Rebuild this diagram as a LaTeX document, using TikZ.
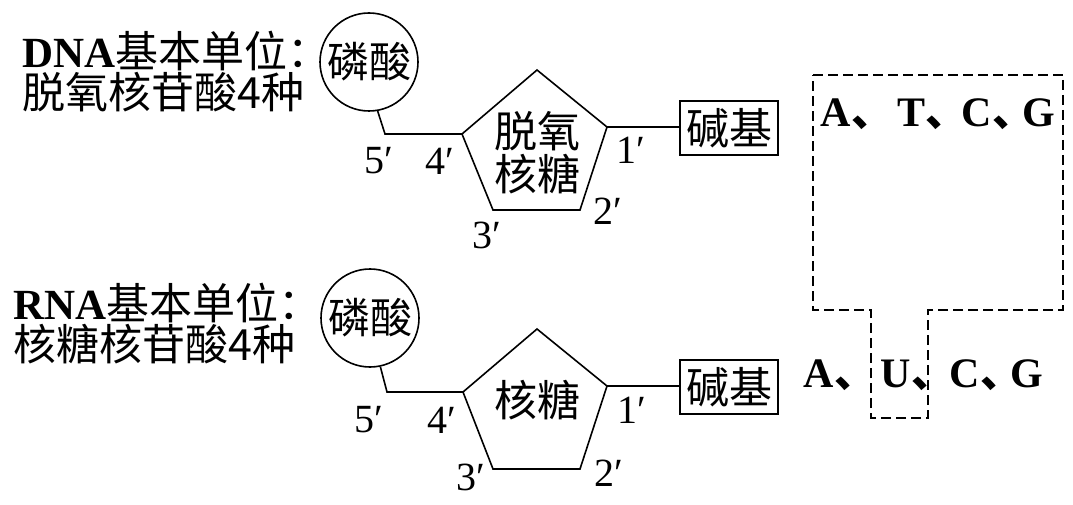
\documentclass[tikz,border=0pt]{standalone}
\usepackage{fontspec}
\setmainfont{Liberation Serif}
\newfontfamily\cjk{Noto Sans CJK SC}
\newcommand{\dun}{{\cjk 、}}
\begin{document}
\begin{tikzpicture}[x=1pt,y=-1pt,line width=1.6pt,
  title/.style={anchor=west, inner sep=0, align=left, font=\fontsize{43}{41}\selectfont},
  sugar/.style={inner sep=0, align=center, font=\cjk\fontsize{43}{43}\selectfont},
  phos/.style={draw, circle, minimum size=98pt, inner sep=0, font=\cjk\fontsize{42}{44}\selectfont},
  basebox/.style={draw, rectangle, minimum width=98pt, minimum height=54pt, inner sep=0, font=\cjk\fontsize{43}{48}\selectfont},
  num/.style={inner sep=0, font=\fontsize{40}{44}\selectfont},
  nt/.style={anchor=base west, inner sep=0, font=\bfseries\fontsize{42}{44}\selectfont},
  dashline/.style={dash pattern=on 10pt off 5pt, line width=1.5pt}]
\useasboundingbox (0,0) rectangle (1073,505);

% ---------- DNA ----------
\node[title] (dnat) at (22,72) {\textbf{DNA}{\cjk 基本单位：}\\{\cjk 脱氧核苷酸4种}};
\node[phos] (p1) at (369,62) {磷酸};
\coordinate (t1) at (537,70);
\coordinate (r1) at (607,127);
\coordinate (br1) at (580,210);
\coordinate (bl1) at (493,210);
\coordinate (l1) at (462,134);
\coordinate (k1) at (385,134);
\draw[line join=miter] (t1) -- (r1) -- (br1) -- (bl1) -- (l1) -- cycle;
\node[sugar] (s1) at (537,153) {脱氧\\核糖};
\node[basebox] (b1) at (729,128) {碱基};
\draw (p1.-80) -- (k1) -- (l1);
\draw (r1) -- (r1 -| b1.west);
\node[num] (n5a) at (379,161) {5′};
\node[num] (n4a) at (440,161) {4′};
\node[num] (n1a) at (631,150) {1′};
\node[num] (n2a) at (608,211) {2′};
\node[num] (n3a) at (487,235) {3′};

% ---------- RNA ----------
\node[title] (rnat) at (13,324) {\textbf{RNA}{\cjk 基本单位：}\\{\cjk 核糖核苷酸4种}};
\node[phos] (p2) at (370,318) {磷酸};
\coordinate (t2) at (537,329);
\coordinate (r2) at (607,386);
\coordinate (br2) at (580,469);
\coordinate (bl2) at (493,469);
\coordinate (l2) at (463,392);
\coordinate (k2) at (387,392);
\draw[line join=miter] (t2) -- (r2) -- (br2) -- (bl2) -- (l2) -- cycle;
\node[sugar] (s2) at (537,400) {核糖};
\node[basebox] (b2) at (729,387) {碱基};
\draw (p2.-78) -- (k2) -- (l2);
\draw (r2) -- (r2 -| b2.west);
\node[num] (n5b) at (369,420) {5′};
\node[num] (n4b) at (442,420) {4′};
\node[num] (n1b) at (632,410) {1′};
\node[num] (n2b) at (609,473) {2′};
\node[num] (n3b) at (471,477) {3′};

% ---------- bases ----------
\node[nt] (dnabases) at (820,127) {A\dun\hspace{4.7pt}T\dun\hspace{-6pt}C\dun\hspace{-11.3pt}G};
\node[nt] (rnabases) at (803,387) {A\dun\hspace{4.7pt}U\dun\hspace{-3.3pt}C\dun\hspace{-11.3pt}G};

\coordinate (d1) at (813,75);
\coordinate (d2) at (1063,75);
\coordinate (d3) at (1063,310);
\coordinate (d4) at (928,310);
\coordinate (d5) at (928,418);
\coordinate (d6) at (871,418);
\coordinate (d7) at (871,310);
\coordinate (d8) at (813,310);
\draw[dashline] (d1) -- (d2) -- (d3) -- (d4) -- (d5) -- (d6) -- (d7) -- (d8) -- cycle;
\end{tikzpicture}
\end{document}
